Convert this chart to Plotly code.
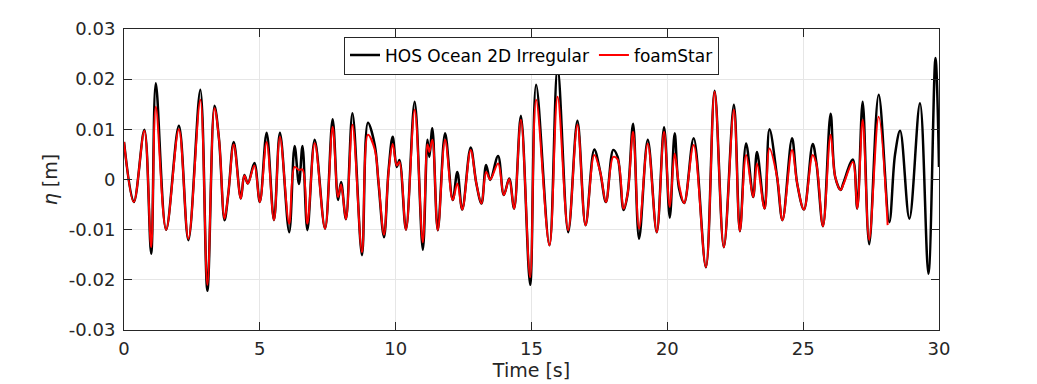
import plotly.graph_objects as go

# extrema (time [s], elevation [m])
t_hos = [0.00, 0.36, 0.75, 1.00, 1.17, 1.55, 2.02, 2.37, 2.81, 3.07, 3.33, 3.50, 3.70, 3.84,
         4.04, 4.30, 4.43, 4.56, 4.80, 5.00, 5.25, 5.52, 5.74, 6.08, 6.28, 6.44, 6.57, 6.75,
         7.02, 7.40, 7.68, 7.88, 7.99, 8.17, 8.41, 8.76, 8.98, 9.23, 9.37, 9.57, 9.74, 9.89,
         10.04, 10.14, 10.38, 10.70, 11.00, 11.17, 11.24, 11.35, 11.55, 11.82, 12.10, 12.27,
         12.45, 12.76, 12.97, 13.16, 13.33, 13.48, 13.77, 13.98, 14.18, 14.36, 14.61, 14.95,
         15.17, 15.66, 15.96, 16.35, 16.69, 16.99, 17.31, 17.53, 17.74, 18.01, 18.17, 18.39,
         18.54, 18.74, 18.96, 19.28, 19.61, 19.88, 20.09, 20.27, 20.43, 20.62, 20.97, 21.42,
         21.74, 22.08, 22.45, 22.67, 22.90, 23.16, 23.30, 23.58, 23.76, 24.04, 24.24, 24.59,
         24.78, 25.03, 25.35, 25.49, 25.73, 26.01, 26.18, 26.38, 26.48, 26.83, 26.99, 27.19,
         27.43, 27.78, 28.17, 28.38, 28.57, 28.91, 29.30, 29.61, 29.87, 30.00]
eta_hos = [0.0075, -0.0045, 0.0099, -0.0148, 0.0192, -0.0100, 0.0107, -0.0121, 0.0179, -0.0222,
           0.0147, 0.0079, -0.0081, -0.0028, 0.0075, -0.0038, 0.0009, -0.0008, 0.0033, -0.0045,
           0.0093, -0.0081, 0.0093, -0.0105, 0.0067, -0.0009, 0.0067, -0.0101, 0.0079, -0.0098,
           0.0120, -0.0041, -0.0005, -0.0079, 0.0132, -0.0151, 0.0113, 0.0069, -0.0008, -0.0115,
           0.0019, 0.0085, 0.0025, 0.0039, -0.0100, 0.0155, -0.0140, 0.0079, 0.0045, 0.0102,
           -0.0101, 0.0092, -0.0041, 0.0015, -0.0060, 0.0064, -0.0008, -0.0048, 0.0029, -0.0001,
           0.0047, -0.0031, 0.0002, -0.0058, 0.0127, -0.0210, 0.0189, -0.0131, 0.0223, -0.0105,
           0.0117, -0.0091, 0.0060, 0.0015, -0.0045, 0.0059, 0.0045, -0.0061, -0.0028, 0.0111,
           -0.0118, 0.0079, -0.0105, 0.0104, -0.0076, 0.0092, -0.0018, -0.0047, 0.0082, -0.0175,
           0.0177, -0.0135, 0.0149, -0.0103, 0.0072, -0.0035, 0.0055, -0.0058, 0.0100, 0.0005,
           -0.0081, 0.0082, -0.0008, -0.0060, 0.0071, 0.0032, -0.0093, 0.0131, 0.0005, -0.0021,
           -0.0007, 0.0040, -0.0058, 0.0155, -0.0129, 0.0169, -0.0085, 0.0049, 0.0097, -0.0078,
           0.0152, -0.0188, 0.0242, 0.0025]

t_foam = t_hos[:116] + [28.11]
eta_foam = [0.0075, -0.0045, 0.0097, -0.0135, 0.0145, -0.0100, 0.0100, -0.0118, 0.0159, -0.0210,
            0.0142, 0.0079, -0.0078, -0.0028, 0.0070, -0.0038, 0.0008, -0.0008, 0.0028, -0.0045,
            0.0075, -0.0081, 0.0085, -0.0088, 0.0025, 0.0019, 0.0020, -0.0088, 0.0073, -0.0098,
            0.0105, -0.0035, -0.0010, -0.0079, 0.0109, -0.0145, 0.0089, 0.0060, -0.0005, -0.0110,
            0.0015, 0.0071, 0.0028, 0.0035, -0.0100, 0.0139, -0.0125, 0.0070, 0.0055, 0.0079,
            -0.0101, 0.0079, -0.0041, -0.0008, -0.0060, 0.0059, -0.0008, -0.0048, 0.0015, 0.0000,
            0.0032, -0.0031, 0.0001, -0.0058, 0.0119, -0.0195, 0.0159, -0.0131, 0.0165, -0.0101,
            0.0109, -0.0091, 0.0049, 0.0015, -0.0045, 0.0045, 0.0040, -0.0058, -0.0028, 0.0095,
            -0.0098, 0.0072, -0.0105, 0.0095, -0.0055, 0.0052, -0.0010, -0.0047, 0.0069, -0.0175,
            0.0175, -0.0135, 0.0139, -0.0103, 0.0049, -0.0035, 0.0032, -0.0058, 0.0062, 0.0005,
            -0.0081, 0.0059, -0.0008, -0.0060, 0.0049, 0.0030, -0.0093, 0.0089, 0.0005, -0.0021,
            -0.0010, 0.0035, -0.0058, 0.0119, -0.0120, 0.0125, -0.0091]

x_ticks = [0, 5, 10, 15, 20, 25, 30]
y_ticks = [-0.03, -0.02, -0.01, 0, 0.01, 0.02, 0.03]
y_labels = ["-0.03", "-0.02", "-0.01", "0", "0.01", "0.02", "0.03"]

fig = go.Figure()
fig.add_trace(go.Scatter(x=t_hos, y=eta_hos, mode="lines", name="HOS Ocean 2D Irregular",
                         line=dict(color="black", width=2.5, shape="spline", smoothing=1.0)))
fig.add_trace(go.Scatter(x=t_foam, y=eta_foam, mode="lines", name="foamStar",
                         line=dict(color="red", width=2, shape="spline", smoothing=1.0)))

axis_common = dict(showline=True, linecolor="#262626", linewidth=1, mirror="ticks",
                   ticks="inside", ticklen=8, tickcolor="#262626", automargin=False,
                   showgrid=True, gridcolor="#e6e6e6", zeroline=False,
                   tickfont=dict(size=18, color="#262626"))

# the page body adds an 8px offset, so margins are trimmed to land the axes where they belong
fig.update_layout(
    width=1037, height=384,
    margin=dict(l=116, r=106, t=21, b=62),
    paper_bgcolor="white", plot_bgcolor="white",
    font=dict(family="DejaVu Sans", color="#262626"),
    xaxis=dict(range=[0, 30], tickvals=x_ticks, ticklabelstandoff=2,
               title=dict(text="Time [s]", font=dict(size=19), standoff=6), **axis_common),
    yaxis=dict(range=[-0.03, 0.03], tickvals=y_ticks, ticktext=y_labels, ticklabelstandoff=4,
               title=dict(text="<i>η</i> [m]", font=dict(size=19), standoff=6), **axis_common),
    legend=dict(orientation="h", x=0.5, xanchor="center", y=0.975, yanchor="top",
                bgcolor="white", bordercolor="#262626", borderwidth=1,
                font=dict(size=17, color="black"), itemwidth=30),
    showlegend=True,
)

fig.write_html("out.html")
